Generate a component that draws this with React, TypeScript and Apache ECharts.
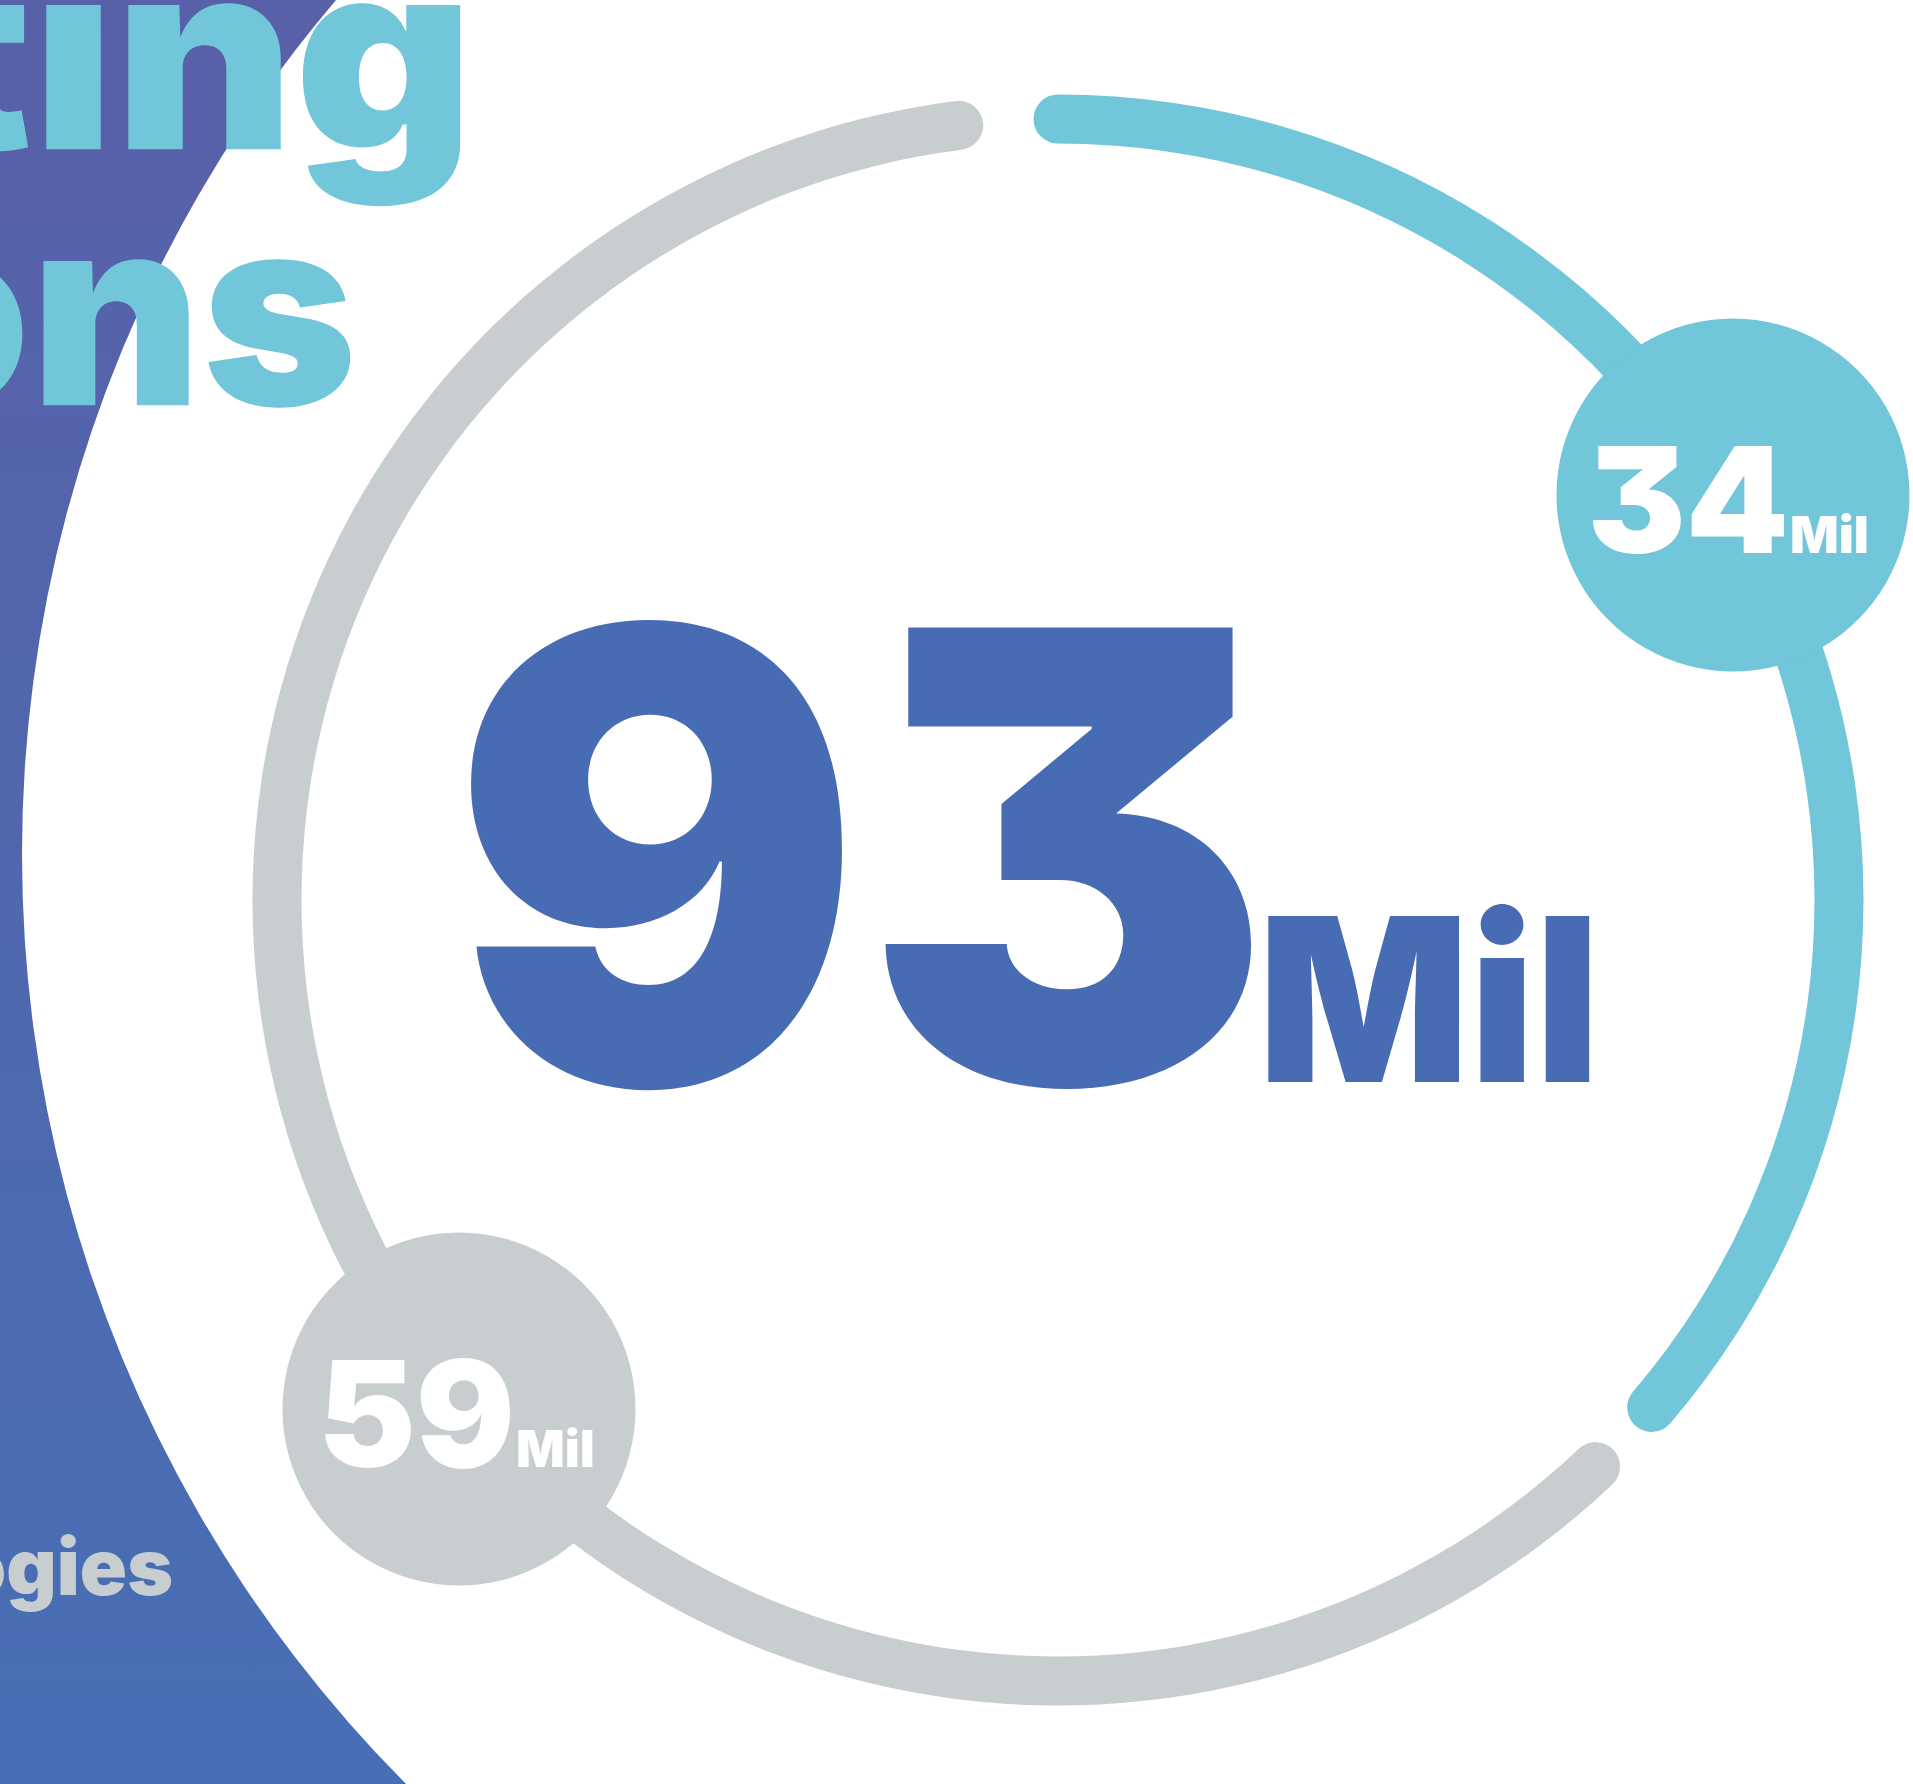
import React, { useEffect, useRef } from 'react';
import * as echarts from 'echarts';

// ---- data ----
const SEGMENT_VALUES = [34, 59];
const UNIT_LABEL = 'Mil';
const HEADLINE_FRAGMENTS = ['ting', 'ons'];
const FOOTNOTE_FRAGMENT = 'ogies';

// ---- layout / style ----
const W = 1913;
const H = 1784;
const CYAN = '#72C6DA';
const GRAY = '#C8CDD0';
const BLUE = '#486CB3';
const FONT = 'Inter';
const WEIGHT = 900;

export default function App() {
  const ref = useRef<HTMLDivElement>(null);

  useEffect(() => {
    document.body.style.margin = '0';
    document.body.style.overflow = 'hidden';
    const chart = echarts.init(ref.current!, null, { renderer: 'svg', width: W, height: H });

    const total = SEGMENT_VALUES.reduce((a, b) => a + b, 0);
    const cx = 1058;
    const cy = 900;
    const ringR = 781;
    const ringW = 49;
    const ringSweep = 357;
    const cyanSweep = (ringSweep * SEGMENT_VALUES[0]) / total;
    const grayStart = cyanSweep + 6;
    const grayEnd = 360 - 7.3;

    const hidden = {
      axisLine: { show: false },
      splitLine: { show: false },
      axisTick: { show: false },
      axisLabel: { show: false },
      pointer: { show: false },
      anchor: { show: false },
      title: { show: false },
      detail: { show: false },
    };

    const badgeR = 176.5;
    const badgeCenters = [
      [1733, 495],
      [459, 1409],
    ];
    const badgeColors = [CYAN, GRAY];
    const numSize = 147;
    const unitSize = 51;

    const txt = (
      text: string,
      x: number,
      baseline: number,
      size: number,
      color: string,
      align: string,
      z: number,
      scaleX = 1
    ) => ({
      type: 'text',
      z,
      x,
      y: baseline - 0.363 * size,
      scaleX,
      style: {
        text,
        fill: color,
        fontSize: size,
        fontWeight: WEIGHT,
        fontFamily: FONT,
        textAlign: align,
        textVerticalAlign: 'middle',
      },
    });

    const badges = SEGMENT_VALUES.map((v, i) => {
      const [bx, by] = badgeCenters[i];
      return {
        type: 'group',
        children: [
          {
            type: 'circle',
            z: 10,
            shape: { cx: bx, cy: by, r: badgeR },
            style: { fill: badgeColors[i] },
          },
          txt(String(v), bx + 56, by + 58, numSize, '#ffffff', 'right', 11),
          txt(UNIT_LABEL, bx + 57, by + 58, unitSize, '#ffffff', 'left', 11),
        ],
      };
    });

    const headSize = 264;

    chart.setOption({
      animation: false,
      graphic: [
        {
          type: 'rect',
          z: 0,
          shape: { x: 0, y: 0, width: W, height: H },
          style: {
            fill: new echarts.graphic.LinearGradient(0, 0, 0, 1, [
              { offset: 0, color: '#5860A8' },
              { offset: 1, color: '#476FB5' },
            ]),
          },
        },
        {
          type: 'circle',
          z: 1,
          shape: { cx: 1340, cy: 854, r: 1318 },
          style: { fill: '#ffffff' },
        },
        txt(HEADLINE_FRAGMENTS[0], 474, 149, headSize, CYAN, 'right', 5, 1.05),
        txt(HEADLINE_FRAGMENTS[1], 357, 405, headSize, CYAN, 'right', 5, 1.0),
        txt(FOOTNOTE_FRAGMENT, 173, 1595, 78, GRAY, 'right', 5),
        txt(String(total), 1272, 1082, 626, BLUE, 'right', 10, 0.977),
        txt(UNIT_LABEL, 1258, 1082, 228, BLUE, 'left', 10, 0.97),
        ...badges,
      ],
      series: [
        {
          type: 'gauge',
          center: [cx, cy],
          radius: ringR + ringW / 2,
          startAngle: 90,
          endAngle: 90 - ringSweep,
          min: 0,
          max: total,
          progress: { show: true, width: ringW, roundCap: true, itemStyle: { color: CYAN } },
          data: [{ value: SEGMENT_VALUES[0] }],
          ...hidden,
        },
        {
          type: 'gauge',
          center: [cx, cy],
          radius: ringR + ringW / 2,
          startAngle: 90 - grayStart,
          endAngle: 90 - grayEnd,
          min: 0,
          max: SEGMENT_VALUES[1],
          progress: { show: true, width: ringW, roundCap: true, itemStyle: { color: GRAY } },
          data: [{ value: SEGMENT_VALUES[1] }],
          ...hidden,
        },
      ],
    });

    return () => {
      chart.dispose();
    };
  }, []);

  return (
    <>
      <style>{`svg text { font-feature-settings: "cv09" 1; }`}</style>
      <div ref={ref} style={{ width: W, height: H }} />
    </>
  );
}
